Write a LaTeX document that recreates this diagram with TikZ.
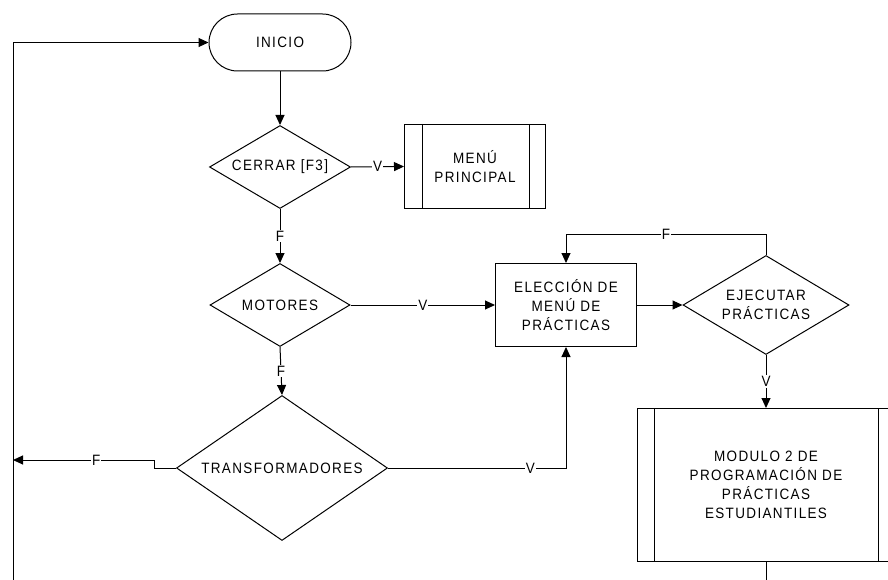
\documentclass[tikz,border=0pt]{standalone}
\usepackage{fontspec}
\setmainfont{Liberation Sans}[LetterSpace=9, FakeStretch=0.9]
\usetikzlibrary{shapes.geometric,shapes.misc,arrows.meta}
\begin{document}
\begin{tikzpicture}[x=1pt,y=-1pt,
  base/.style={draw, line width=1pt, inner sep=0pt, align=center, font=\fontsize{15}{19}\selectfont},
  term/.style={base, rounded rectangle, minimum width=142pt, minimum height=57pt},
  dec/.style={base, diamond},
  proc/.style={base, rectangle},
  arr/.style={line width=1pt, -{Triangle[length=10pt,width=9pt]}},
  ln/.style={line width=1pt},
  lab/.style={fill=white, inner sep=1pt, font=\fontsize{15}{15}\selectfont}]
\useasboundingbox (0,0) rectangle (888,580);
\clip (0,0) rectangle (888,580);

\node[term] (inicio) at (280,42.5) {INICIO};
\node[dec, aspect=1.69, minimum width=141pt, minimum height=83pt] (cerrar) at (280,167) {CERRAR [F3]};
\node[proc, minimum width=141pt, minimum height=84pt] (menu) at (475,166.5) {MENÚ\\PRINCIPAL};
\draw[ln] ([xshift=18pt]menu.north west) -- ([xshift=18pt]menu.south west);
\draw[ln] ([xshift=-17pt]menu.north east) -- ([xshift=-17pt]menu.south east);
\node[dec, aspect=1.68, minimum width=140pt, minimum height=83pt] (motores) at (280,305) {MOTORES};
\node[proc, minimum width=141pt, minimum height=83pt] (elec) at (566,305) {ELECCIÓN DE\\MENÚ DE\\PRÁCTICAS};
\node[dec, aspect=1.67, minimum width=166pt, minimum height=99pt] (ejec) at (766,305) {EJECUTAR\\PRÁCTICAS};
\node[dec, aspect=1.45, minimum width=211pt, minimum height=145pt] (trans) at (282,468) {TRANSFORMADORES};
\node[proc, minimum width=257pt, minimum height=153pt] (modulo) at (766,485) {MODULO 2 DE\\PROGRAMACIÓN DE\\PRÁCTICAS\\ESTUDIANTILES};
\draw[ln] ([xshift=17pt]modulo.north west) -- ([xshift=17pt]modulo.south west);
\draw[ln] ([xshift=-17pt]modulo.north east) -- ([xshift=-17pt]modulo.south east);

\coordinate (lb) at (13,590);
\coordinate (fhit) at (13,460);
\coordinate (mb) at (766,590);

\draw[arr] (lb) |- (inicio.west);
\draw[arr] (inicio.south) -- (cerrar.north);
\draw[arr] (cerrar.east) -- node[lab]{V} (menu.west);
\draw[arr] (cerrar.south) -- node[lab]{F} (motores.north);
\draw[arr] (motores.east) -- node[lab]{V} (elec.west);
\draw[arr] (motores.south) -- node[lab]{F} (trans.north);
\draw[arr] (elec.east) -- (ejec.west);
\draw[arr] (ejec.north) -- ++(0,-21) -| node[lab, pos=0.25]{F} (elec.north);
\draw[arr] (ejec.south) -- node[lab]{V} (modulo.north);
\draw[ln] (modulo.south) -- (mb);
\draw[arr] (trans.west) -- ++(-22,0) -- ++(0,-8) -- node[lab, pos=0.41]{F} (fhit);
\draw[arr] (trans.east) -| node[lab, pos=0.40]{V} (elec.south);
\end{tikzpicture}
\end{document}
